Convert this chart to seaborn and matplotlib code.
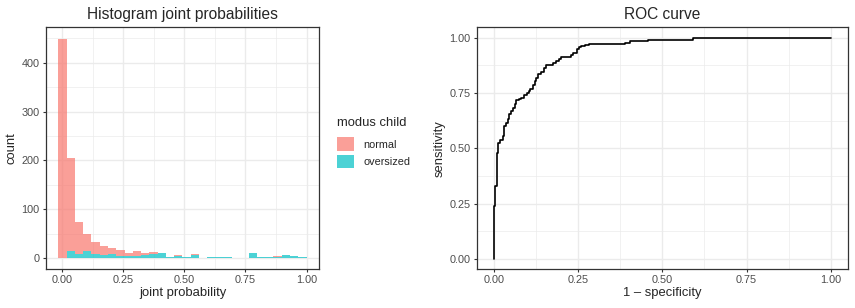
import numpy as np
import pandas as pd
import matplotlib
matplotlib.use("Agg")
import matplotlib.pyplot as plt
import seaborn as sns

# ---------------- data ----------------
n_bins = 30
bin_lo, bin_hi = -0.0155, 1.0
normal_counts = [447, 190, 64, 36, 24, 17, 13, 11, 5, 9, 4, 4, 0, 0, 2, 0, 2, 0, 1, 0,
                 1, 0, 0, 0, 0, 0, 2, 0, 0, 0]
oversized_counts = [1, 14, 9, 14, 8, 7, 8, 5, 5, 5, 6, 8, 10, 2, 5, 3, 7, 1, 2, 2,
                    2, 1, 0, 10, 3, 3, 3, 7, 5, 3]
groups = ["normal", "oversized"]

roc_fpr = [0.000, 0.000, 0.002, 0.004, 0.008, 0.010, 0.012, 0.019, 0.027, 0.030, 0.036,
           0.041, 0.046, 0.052, 0.057, 0.062, 0.067, 0.075, 0.082, 0.090, 0.097, 0.103,
           0.108, 0.115, 0.121, 0.126, 0.131, 0.141, 0.148, 0.156, 0.165, 0.176, 0.185,
           0.193, 0.200, 0.225, 0.230, 0.235, 0.246, 0.253, 0.259, 0.270, 0.282, 0.361,
           0.390, 0.404, 0.456, 0.590, 0.590, 1.000]
roc_tpr = [0.000, 0.240, 0.300, 0.330, 0.400, 0.480, 0.525, 0.540, 0.555, 0.600, 0.615,
           0.631, 0.654, 0.668, 0.684, 0.700, 0.719, 0.724, 0.729, 0.742, 0.752, 0.760,
           0.770, 0.785, 0.805, 0.820, 0.838, 0.845, 0.862, 0.876, 0.878, 0.885, 0.896,
           0.903, 0.911, 0.913, 0.920, 0.930, 0.949, 0.958, 0.964, 0.968, 0.971, 0.973,
           0.977, 0.984, 0.991, 0.995, 1.000, 1.000]

# ---------------- build frames ----------------
edges = np.linspace(bin_lo, bin_hi, n_bins + 1)
centers = (edges[:-1] + edges[1:]) / 2
hist_df = pd.DataFrame({
    "prob": np.concatenate([centers, centers]),
    "count": normal_counts + oversized_counts,
    "modus": [groups[0]] * n_bins + [groups[1]] * n_bins,
})
roc_df = pd.DataFrame({"fpr": roc_fpr, "tpr": roc_tpr})

# ---------------- style ----------------
sns.set_theme(style="white")
plt.rcParams["font.family"] = ["Liberation Sans", "DejaVu Sans"]
TICK_C = "#4D4D4D"
GRID_C = "#EBEBEB"
BORDER_C = "#333333"
tick_fs = 7.8
lab_fs = 9.4
title_fs = 11.2

fig = plt.figure(figsize=(8.55, 3.08), dpi=100)
ax1 = fig.add_axes([46 / 855, 1 - 269 / 308, 273 / 855, 241.7 / 308])
ax2 = fig.add_axes([477 / 855, 1 - 269 / 308, 370.7 / 855, 241.7 / 308])


def style_axes(ax, xmaj, xmin, ymaj, ymin):
    ax.set_xticks(xmaj)
    ax.set_xticks(xmin, minor=True)
    ax.set_yticks(ymaj)
    ax.set_yticks(ymin, minor=True)
    ax.grid(True, which="major", color=GRID_C, linewidth=1.0)
    ax.grid(True, which="minor", color=GRID_C, linewidth=0.5)
    ax.set_axisbelow(True)
    for s in ax.spines.values():
        s.set_color(BORDER_C)
        s.set_linewidth(0.9)
    ax.tick_params(axis="both", which="major", length=2.5, width=0.8, color=BORDER_C,
                   labelsize=tick_fs, labelcolor=TICK_C, pad=2, bottom=True, left=True)
    ax.tick_params(axis="both", which="minor", length=0)


# ---------------- histogram ----------------
sns.histplot(data=hist_df, x="prob", weights="count", hue="modus", hue_order=groups,
             bins=n_bins, binrange=(bin_lo, bin_hi), multiple="stack", alpha=0.7,
             linewidth=0, palette={"normal": "#F8766D", "oversized": "#00BFC4"}, ax=ax1)
ax1.set_xlim(-0.066, 1.051)
ax1.set_ylim(-22.5, 472.5)
xt = [0, 0.25, 0.5, 0.75, 1.0]
style_axes(ax1, xt, [0.125, 0.375, 0.625, 0.875], [0, 100, 200, 300, 400],
           [50, 150, 250, 350, 450])
ax1.set_xticklabels(["0.00", "0.25", "0.50", "0.75", "1.00"])
ax1.set_xlabel("joint probability", fontsize=lab_fs, labelpad=1)
ax1.set_ylabel("count", fontsize=lab_fs, labelpad=3)
ax1.set_title("Histogram joint probabilities", fontsize=title_fs, pad=6)

sns.move_legend(ax1, "upper left", bbox_to_anchor=(337 / 855, 1 - 117 / 308),
                bbox_transform=fig.transFigure, frameon=False, title="modus child",
                fontsize=tick_fs, title_fontsize=lab_fs, handlelength=1.6,
                handleheight=1.6, labelspacing=0.3, handletextpad=0.8,
                borderaxespad=0, borderpad=0)
leg = ax1.get_legend()
leg._legend_box.align = "left"
leg._legend_box.sep = 6

# ---------------- ROC ----------------
sns.lineplot(data=roc_df, x="fpr", y="tpr", sort=False, estimator=None,
             drawstyle="steps-post", color="black", linewidth=1.2, ax=ax2)
ax2.set_xlim(-0.05, 1.05)
ax2.set_ylim(-0.045, 1.047)
style_axes(ax2, xt, [0.125, 0.375, 0.625, 0.875], xt, [0.125, 0.375, 0.625, 0.875])
ax2.set_xticklabels(["0.00", "0.25", "0.50", "0.75", "1.00"])
ax2.set_yticklabels(["0.00", "0.25", "0.50", "0.75", "1.00"])
ax2.set_xlabel("1 \u2013 specificity", fontsize=lab_fs, labelpad=1)
ax2.set_ylabel("sensitivity", fontsize=lab_fs, labelpad=3)
ax2.set_title("ROC curve", fontsize=title_fs, pad=6)

fig.savefig("out.png", dpi=100)
